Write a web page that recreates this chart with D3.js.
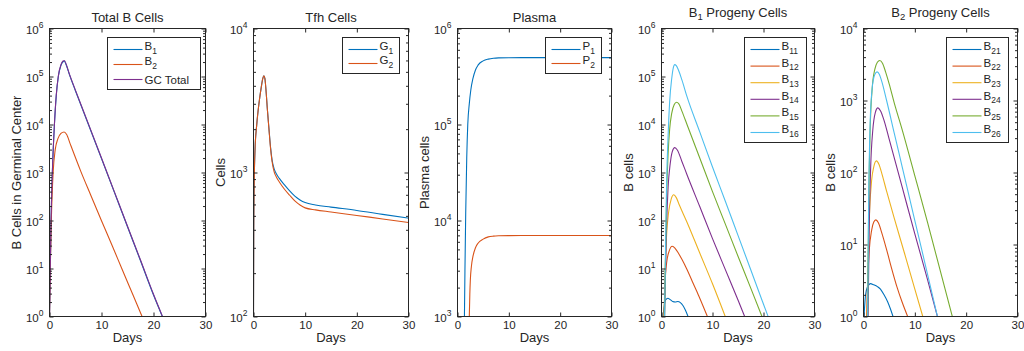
<!DOCTYPE html>
<html>
<head>
<meta charset="utf-8">
<script src="https://cdn.jsdelivr.net/npm/d3@7"></script>
<style>
  body { margin: 0; background: #fff; }
  text { font-family: "Liberation Sans", Arial, Helvetica, sans-serif; fill: #262626; }
</style>
</head>
<body>
<script>
// ---- data (days, cells) ----
// Total B cells
var tB1 = [0, 0.15, 0.3, 0.55, 0.95, 1.3, 1.7, 2.2, 2.6, 2.86, 3.2, 3.8, 5, 7.5, 10, 12.5, 15, 17.5, 20, 21.7];
var B1 = [1, 10, 100, 1000, 10000, 40000, 100000, 170000, 203000, 208000, 176000, 112000, 50000, 9900, 1950, 380, 74, 14.5, 2.8, 1];
var GCtotal = [1, 10, 102, 1020, 10200, 41000, 103000, 176000, 210000, 215000, 181000, 115000, 51500, 10200, 2000, 390, 76, 15, 2.9, 1.02];
var tB2 = [0, 0.15, 0.35, 0.7, 1.1, 1.6, 2.2, 2.8, 3.3, 4, 6, 8, 10, 12, 14, 16, 17.8];
var B2 = [1, 10, 100, 1000, 3000, 5000, 6500, 7000, 6200, 3900, 1070, 325, 99, 31, 9.4, 2.9, 1];

// Tfh cells
var tG = [0, 0.05, 0.15, 0.3, 0.6, 0.9, 1.2, 1.5, 1.8, 2.0, 2.2, 2.4, 2.7, 3.0, 3.3, 3.6, 4.0, 4.5, 5, 6, 7, 8, 9, 10, 12, 15, 20, 25, 30];
var G1 = [100, 400, 900, 1450, 2100, 2700, 3300, 3900, 4500, 4700, 4500, 3800, 2700, 2000, 1500, 1220, 1060, 970, 910, 820, 745, 685, 645, 618, 595, 575, 545, 512, 482];
var G2 = [100, 400, 900, 1450, 2100, 2700, 3300, 3900, 4500, 4700, 4500, 3800, 2700, 1980, 1470, 1190, 1010, 920, 860, 765, 695, 635, 595, 568, 550, 532, 503, 476, 450];

// Plasma cells
var tP1 = [1.35, 1.45, 1.6, 1.8, 2.0, 2.3, 2.6, 3.0, 3.5, 4.0, 5, 6, 7, 8, 10, 15, 20, 30];
var P1 = [1000, 3000, 12000, 45000, 100000, 165000, 230000, 300000, 370000, 415000, 460000, 480000, 490000, 494000, 496000, 497000, 497000, 497000];
var tP2 = [2.3, 2.4, 2.5, 2.7, 3.0, 3.5, 4.0, 5, 6, 7, 8, 10, 15, 20, 30];
var P2 = [1000, 1700, 2400, 3300, 4200, 5200, 5800, 6400, 6750, 6880, 6930, 6960, 6970, 6980, 6980];

// B1 progeny
var tB11 = [0.3, 0.5, 0.8, 1.25, 1.7, 2.2, 2.7, 3.2, 3.7, 4.2, 4.7, 5.2];
var B11 = [1, 1.6, 2.2, 2.4, 2.25, 2.05, 2.0, 2.05, 1.95, 1.7, 1.35, 1];
var tB12 = [0.5, 0.7, 1.0, 1.5, 2.1, 2.7, 3.3, 4.0, 5.0, 6.0, 7.0, 8.0, 9.0];
var B12 = [1, 5, 13, 23, 29, 26, 21, 15.5, 9.5, 5.5, 3.2, 1.8, 1];
var tB13 = [0.5, 0.7, 1.0, 1.4, 1.9, 2.4, 2.9, 3.5, 5, 7.5, 10, 12.5];
var B13 = [1, 8, 50, 150, 280, 343, 300, 210, 92, 21, 4.8, 1];
var tB14 = [0.6, 0.8, 1.0, 1.3, 1.7, 2.1, 2.6, 3.1, 4, 5, 7.5, 10, 12.5, 15, 16.3];
var B14 = [1, 10, 80, 500, 1500, 2700, 3300, 2950, 1700, 900, 195, 42, 9.6, 2.2, 1];
var tB15 = [0.6, 0.8, 1.0, 1.3, 1.6, 2.0, 2.5, 2.94, 3.4, 4, 5, 7.5, 10, 12.5, 15, 17.5, 19.7];
var B15 = [1, 20, 300, 2500, 8000, 17000, 26000, 29000, 27000, 19000, 10000, 2000, 400, 85, 18, 3.9, 1];
var tB16 = [0.6, 0.8, 1.0, 1.3, 1.6, 2.0, 2.3, 2.6, 2.9, 3.3, 4, 5, 7.5, 10, 12.5, 15, 17.5, 20, 20.9];
var B16 = [1, 30, 600, 6000, 30000, 90000, 150000, 177000, 168000, 138000, 85000, 38000, 7000, 1300, 255, 49, 9.4, 1.8, 1];

// B2 progeny
var tB21 = [0.1, 0.4, 0.8, 1.35, 2.0, 2.7, 3.3, 4.0, 4.7, 5.2, 5.75];
var B21 = [1, 2.0, 2.6, 2.86, 2.75, 2.6, 2.4, 2.0, 1.6, 1.3, 1];
var tB22 = [0.6, 0.8, 1.1, 1.6, 2.0, 2.4, 2.9, 3.5, 4.5, 5.5, 6.5, 7.5, 8.6];
var B22 = [1, 3, 8, 16, 20.5, 22, 20, 15, 8.5, 4.6, 2.6, 1.6, 1];
var tB23 = [0.7, 0.9, 1.2, 1.6, 2.0, 2.52, 3.0, 3.6, 4.5, 6, 8, 10, 11.55];
var B23 = [1, 6, 30, 80, 120, 145, 130, 95, 55, 23, 7.5, 2.4, 1];
var tB24 = [0.9, 1.1, 1.4, 1.8, 2.3, 2.8, 3.3, 4, 5, 7.5, 10, 12.5, 14.4];
var B24 = [1, 15, 120, 380, 680, 790, 720, 530, 290, 64, 14, 3.2, 1];
var tB25 = [0.8, 1.0, 1.3, 1.7, 2.2, 2.7, 3.16, 3.7, 4.3, 5, 6, 7.5, 10, 12.5, 15, 17.3];
var B25 = [1, 30, 400, 1500, 2700, 3400, 3600, 3300, 2500, 1700, 920, 400, 90, 20, 4.2, 1];
var tB26 = [0.8, 1.0, 1.3, 1.7, 2.2, 2.65, 3.1, 3.6, 4.5, 6, 7.5, 10, 12.5, 14.4];
var B26 = [1, 40, 500, 1500, 2300, 2500, 2300, 1800, 1000, 350, 123, 21.5, 3.8, 1];

var xTicks = [0, 10, 20, 30];
var titles = ["Total B Cells", "Tfh Cells", "Plasma", "B_1 Progeny Cells", "B_2 Progeny Cells"];
var ylabels = ["B Cells in Germinal Center", "Cells", "Plasma cells", "B cells", "B cells"];
var ydomains = [[1, 1e6], [100, 1e4], [1000, 1e6], [1, 1e6], [1, 1e4]];

// matlab default line colours
var colors = ["#0072BD", "#D95319", "#EDB120", "#7E2F8E", "#77AC30", "#4DBEEE"];

var w = 1024, h = 351;
var plotTop = 28.5, plotBottom = 316.5;
var FONT = '"Liberation Sans", Arial, Helvetica, sans-serif';

var panels = [
  { left: 49.5, right: 205.5, leg: { x: 107.5, y: 37.5, w: 93, row: 15 },
    series: [ { name: "B1", t: tB1, v: B1, c: colors[0] },
              { name: "B2", t: tB2, v: B2, c: colors[1] },
              { name: "GC Total", t: tB1, v: GCtotal, c: colors[3] } ] },
  { left: 253.5, right: 408.5, leg: { x: 342.5, y: 37.5, w: 57, row: 14 },
    series: [ { name: "G1", t: tG, v: G1, c: colors[0] },
              { name: "G2", t: tG, v: G2, c: colors[1] } ] },
  { left: 457.5, right: 611.5, leg: { x: 545.5, y: 37.5, w: 56, row: 14 },
    series: [ { name: "P1", t: tP1, v: P1, c: colors[0] },
              { name: "P2", t: tP2, v: P2, c: colors[1] } ] },
  { left: 661.5, right: 814.5, leg: { x: 744.5, y: 37.5, w: 62, row: 16.6 },
    series: [ { name: "B11", t: tB11, v: B11, c: colors[0] },
              { name: "B12", t: tB12, v: B12, c: colors[1] },
              { name: "B13", t: tB13, v: B13, c: colors[2] },
              { name: "B14", t: tB14, v: B14, c: colors[3] },
              { name: "B15", t: tB15, v: B15, c: colors[4] },
              { name: "B16", t: tB16, v: B16, c: colors[5] } ] },
  { left: 863.5, right: 1017.5, leg: { x: 946.5, y: 37.5, w: 62, row: 16.6 },
    series: [ { name: "B21", t: tB21, v: B21, c: colors[0] },
              { name: "B22", t: tB22, v: B22, c: colors[1] },
              { name: "B23", t: tB23, v: B23, c: colors[2] },
              { name: "B24", t: tB24, v: B24, c: colors[3] },
              { name: "B25", t: tB25, v: B25, c: colors[4] },
              { name: "B26", t: tB26, v: B26, c: colors[5] } ] }
];

var svg = d3.select("body").append("svg")
  .attr("width", w)
  .attr("height", h);

panels.forEach(function(p, i) {
  var g = svg.append("g");
  var x = d3.scaleLinear().domain([0, 30]).range([p.left, p.right]);
  var y = d3.scaleLog().domain(ydomains[i]).range([plotBottom, plotTop]);

  var all = y.ticks();
  var majors = all.filter(function(d) { return Math.abs(Math.log10(d) - Math.round(Math.log10(d))) < 1e-9; });
  var minors = all.filter(function(d) { return majors.indexOf(d) < 0; });

  // clip lines to the axes box
  g.append("clipPath").attr("id", "clip" + i)
    .append("rect")
    .attr("x", p.left).attr("y", plotTop)
    .attr("width", p.right - p.left).attr("height", plotBottom - plotTop);

  var line = d3.line()
    .x(function(d) { return x(d[0]); })
    .y(function(d) { return y(d[1]); })
    .curve(d3.curveMonotoneX);

  g.append("g").attr("clip-path", "url(#clip" + i + ")")
    .selectAll("path")
    .data(p.series)
    .enter()
    .append("path")
    .attr("d", function(s) { return line(d3.zip(s.t, s.v)); })
    .attr("fill", "none")
    .attr("stroke", function(s) { return s.c; })
    .attr("stroke-width", 1.1);

  // axes, ticks pointing inward on all four sides
  function styleAxis(a) {
    a.attr("color", "#262626").attr("font-family", FONT).attr("font-size", 11.5);
    a.select(".domain").remove();
  }
  g.append("g").attr("transform", "translate(0," + plotBottom + ")")
    .call(d3.axisBottom(x).tickValues(xTicks).tickSize(-4).tickPadding(4))
    .call(styleAxis);
  g.append("g").attr("transform", "translate(0," + plotTop + ")")
    .call(d3.axisTop(x).tickValues(xTicks).tickSize(-4).tickFormat(""))
    .call(styleAxis);

  var yl = g.append("g").attr("transform", "translate(" + p.left + ",0)")
    .call(d3.axisLeft(y).tickValues(majors).tickSize(-4).tickPadding(6).tickFormat(""))
    .call(styleAxis);
  yl.selectAll(".tick text").attr("dy", "0.45em").each(function(d) {
    var t = d3.select(this);
    t.append("tspan").text("10");
    t.append("tspan").attr("dy", -6).attr("font-size", 8.5).text(Math.round(Math.log10(d)));
  });
  g.append("g").attr("transform", "translate(" + p.left + ",0)")
    .call(d3.axisLeft(y).tickValues(minors).tickSize(-2.5).tickFormat(""))
    .call(styleAxis);
  g.append("g").attr("transform", "translate(" + p.right + ",0)")
    .call(d3.axisRight(y).tickValues(majors).tickSize(-4).tickFormat(""))
    .call(styleAxis);
  g.append("g").attr("transform", "translate(" + p.right + ",0)")
    .call(d3.axisRight(y).tickValues(minors).tickSize(-2.5).tickFormat(""))
    .call(styleAxis);

  g.append("rect")
    .attr("x", p.left).attr("y", plotTop)
    .attr("width", p.right - p.left).attr("height", plotBottom - plotTop)
    .attr("fill", "none").attr("stroke", "#262626").attr("stroke-width", 1);

  // title (with optional subscript like B_1)
  var tparts = titles[i].match(/^([A-Z])_(\d+)(.*)$/);
  var cx = (p.left + p.right) / 2;
  var title = g.append("text").attr("x", cx).attr("text-anchor", "middle").attr("font-size", 13);
  if (tparts) {
    title.attr("y", 16.7);
    title.append("tspan").text(tparts[1]);
    title.append("tspan").attr("dy", 3.5).attr("font-size", 9.5).text(tparts[2]);
    title.append("tspan").attr("dy", -3.5).text(tparts[3]);
  } else {
    title.attr("y", 21.5).text(titles[i]);
  }

  g.append("text")
    .attr("x", cx).attr("y", 341.5)
    .attr("text-anchor", "middle").attr("font-size", 13)
    .text("Days");

  g.append("text")
    .attr("transform", "translate(" + (p.left - 28.5) + "," + ((plotTop + plotBottom) / 2) + ") rotate(-90)")
    .attr("text-anchor", "middle").attr("font-size", 13)
    .text(ylabels[i]);

  // legend
  var L = p.leg;
  var n = p.series.length;
  var lg = g.append("g");
  lg.append("rect")
    .attr("x", L.x).attr("y", L.y)
    .attr("width", L.w).attr("height", 12 + (n - 1) * L.row + 10)
    .attr("fill", "#fff").attr("stroke", "#262626").attr("stroke-width", 1);
  var items = lg.selectAll("g.item").data(p.series).enter().append("g").attr("class", "item")
    .attr("transform", function(s, j) { return "translate(" + L.x + "," + (L.y + 12 + j * L.row) + ")"; });
  items.append("line")
    .attr("x1", 6).attr("x2", 35).attr("y1", 0).attr("y2", 0)
    .attr("stroke", function(s) { return s.c; }).attr("stroke-width", 1.1);
  items.append("text")
    .attr("x", 37).attr("font-size", 11.5)
    .each(function(s) {
      var t = d3.select(this);
      var m = s.name.match(/^([A-Z])(\d+)$/);
      if (m) {
        t.attr("y", 0.5);
        t.append("tspan").text(m[1]);
        t.append("tspan").attr("dy", 3.5).attr("font-size", 8.5).text(m[2]);
      } else {
        t.attr("y", 4).text(s.name);
      }
    });
});
</script>
</body>
</html>
